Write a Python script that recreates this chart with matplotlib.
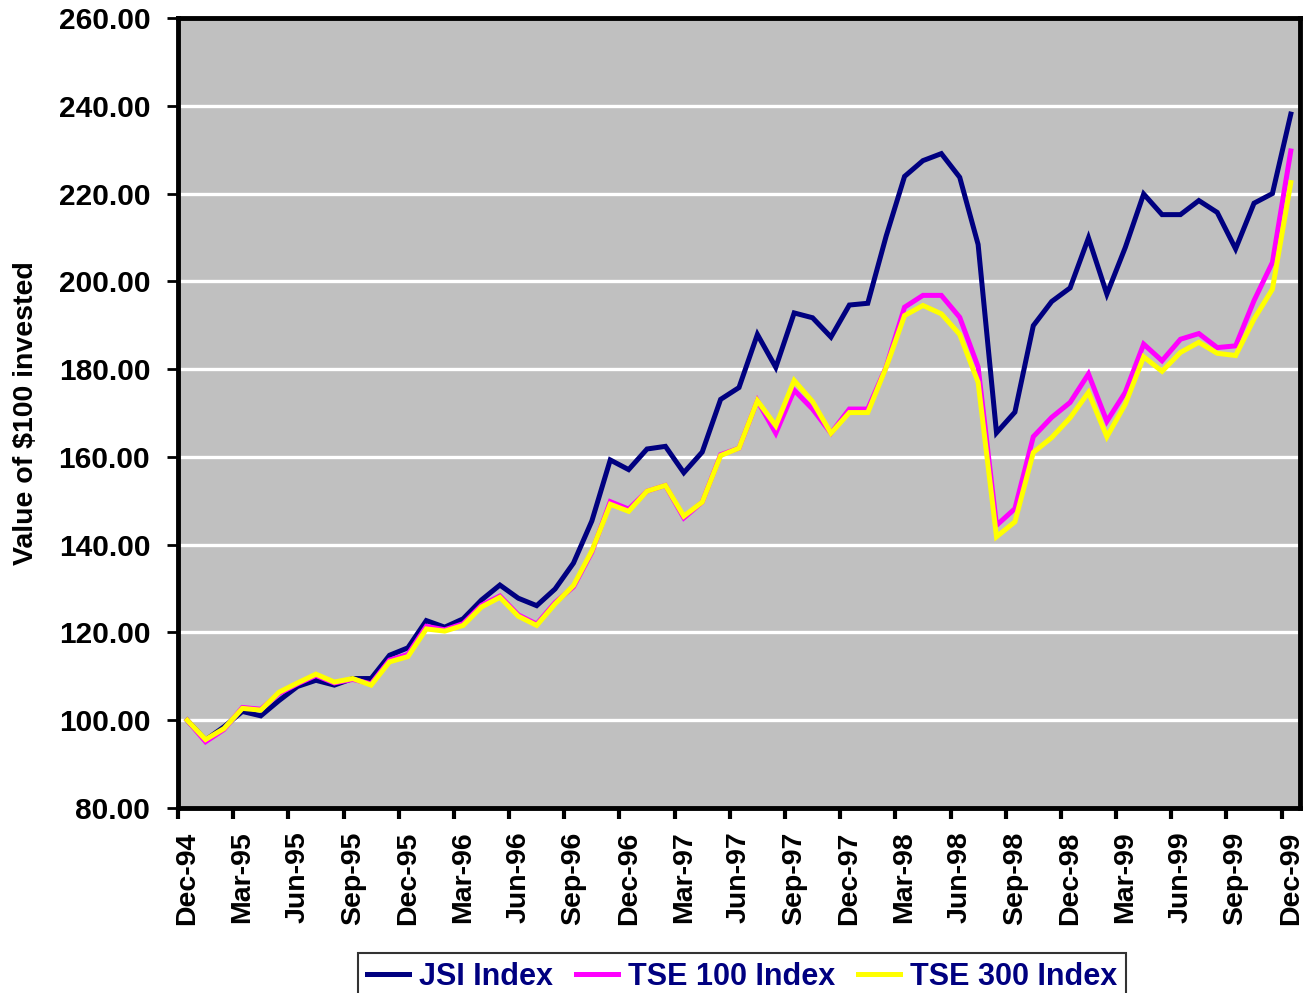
import numpy as np
import matplotlib
matplotlib.use("Agg")
import matplotlib.pyplot as plt

# Monthly value of $100 invested, Dec-94 .. Dec-99 (61 months)
jsi = [100.0, 95.5, 98.5, 102.0, 101.0, 104.5, 107.7, 109.1, 108.0, 109.5,
       109.5, 114.8, 116.5, 122.7, 121.2, 123.1, 127.4, 130.8, 127.8, 126.1,
       129.9, 135.8, 145.4, 159.3, 157.1, 161.8, 162.4, 156.4, 161.1, 173.1,
       175.8, 187.9, 180.4, 192.8, 191.7, 187.3, 194.6, 195.0, 210.3, 223.9,
       227.5, 229.1, 223.7, 208.4, 165.5, 170.2, 189.9, 195.4, 198.5, 209.9,
       197.1, 207.7, 219.9, 215.2, 215.2, 218.4, 215.7, 207.4, 217.8, 220.0,
       238.1]
tse100 = [100.0, 95.1, 97.9, 102.9, 102.5, 106.1, 108.3, 110.2, 108.5, 109.3,
          108.3, 113.7, 115.0, 121.4, 120.6, 122.0, 126.2, 128.3, 124.0, 121.9,
          126.8, 130.4, 138.3, 149.8, 148.1, 152.2, 153.5, 146.1, 149.7, 160.5,
          162.0, 172.8, 165.4, 175.2, 170.9, 165.4, 170.9, 170.9, 180.5, 194.1,
          196.8, 196.8, 191.8, 180.5, 144.4, 148.2, 164.6, 169.0, 172.4, 178.9,
          168.1, 174.7, 185.7, 181.9, 186.8, 188.1, 184.9, 185.3, 195.6, 204.3,
          229.7]
tse300 = [100.0, 95.6, 98.1, 102.7, 102.3, 106.4, 108.5, 110.5, 108.7, 109.5,
          108.0, 113.3, 114.5, 120.8, 120.3, 121.6, 125.8, 128.0, 123.7, 121.6,
          126.5, 130.7, 138.6, 149.2, 147.6, 152.2, 153.5, 146.5, 149.7, 160.3,
          162.0, 172.8, 167.1, 177.4, 172.6, 165.4, 170.1, 170.1, 180.4, 192.2,
          194.5, 192.6, 187.9, 177.0, 141.8, 145.2, 161.0, 164.4, 168.9, 174.7,
          164.6, 172.0, 182.8, 179.5, 183.8, 186.1, 183.6, 183.1, 191.4, 198.2,
          222.5]

tick_labels = ["Dec-94", "Mar-95", "Jun-95", "Sep-95", "Dec-95", "Mar-96",
               "Jun-96", "Sep-96", "Dec-96", "Mar-97", "Jun-97", "Sep-97",
               "Dec-97", "Mar-98", "Jun-98", "Sep-98", "Dec-98", "Mar-99",
               "Jun-99", "Sep-99", "Dec-99"]
series_names = ["JSI Index", "TSE 100 Index", "TSE 300 Index"]
series_colors = ["#000080", "#FF00FF", "#FFFF00"]

plt.rcParams["font.family"] = ["Liberation Sans", "DejaVu Sans"]
plt.rcParams["font.weight"] = "bold"

fig = plt.figure(figsize=(13.05, 9.93), dpi=100)
ax = fig.add_axes([178 / 1305, 1 - 808 / 993, 1122 / 1305, 790 / 993])
ax.set_facecolor("#C0C0C0")

x = np.arange(len(jsi))
for vals, name, col in zip([jsi, tse100, tse300], series_names, series_colors):
    ax.plot(x, vals, color=col, lw=3.6, label=name, solid_joinstyle="miter")

ax.set_xlim(-0.5, len(jsi) - 0.5)
ax.set_ylim(80, 260)

# gridlines
for yv in range(100, 260, 20):
    ax.axhline(yv, color="white", lw=2.4, zorder=0.5)

ax.set_yticks(np.arange(80, 261, 20))
ax.set_yticklabels([f"{v:.2f}" for v in range(80, 261, 20)], fontsize=21.5,
                   fontweight="bold")

# category axis: labels every 3 months, ticks between categories
ax.set_xticks(np.arange(0, len(jsi), 3))
ax.set_xticklabels(tick_labels, rotation=90, fontsize=20.5, fontweight="bold")
ax.tick_params(axis="x", length=0, pad=17)
ax.set_xticks(np.arange(-0.5, len(jsi), 3), minor=True)
ax.tick_params(axis="x", which="minor", length=8, width=3, direction="out")
ax.tick_params(axis="y", length=8, width=2, direction="out", pad=12)

for s in ax.spines.values():
    s.set_linewidth(3.5)
    s.set_color("black")

ax.set_ylabel("Value of $100 invested", fontsize=20.5, fontweight="bold",
              labelpad=14)

leg = fig.legend(loc="upper center", bbox_to_anchor=(742 / 1305, 1 - 953 / 993),
                 ncol=3, frameon=True, fancybox=False, borderaxespad=0,
                 handlelength=1.37, handletextpad=0.33, columnspacing=0.75,
                 borderpad=0.3, prop={"weight": "bold", "size": 22})
leg.get_frame().set_edgecolor("black")
leg.get_frame().set_linewidth(1.5)
for t in leg.get_texts():
    t.set_color("#000080")

plt.savefig("out.png", dpi=100)
plt.close()
